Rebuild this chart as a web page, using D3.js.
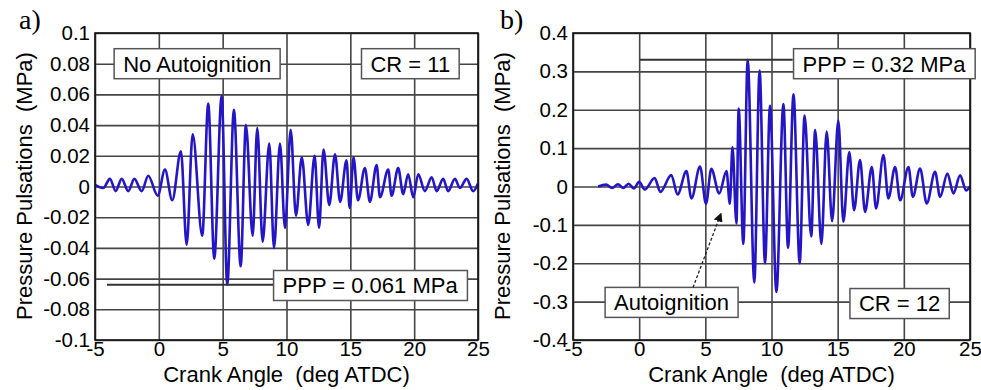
<!DOCTYPE html>
<html>
<head>
<meta charset="utf-8">
<script src="https://cdn.jsdelivr.net/npm/d3@7"></script>
<style>
  body { margin: 0; background: #fff; }
  svg { display: block; }
  text { font-family: "Liberation Sans", Arial, sans-serif; fill: #000; white-space: pre; }
</style>
</head>
<body>
<div id="chart"></div>
<script>
// tick labels
const angleTicks = [-5, 0, 5, 10, 15, 20, 25];
const pulseTicksA = [0.1, 0.08, 0.06, 0.04, 0.02, 0, -0.02, -0.04, -0.06, -0.08, -0.1];
const pulseTicksB = [0.4, 0.3, 0.2, 0.1, 0, -0.1, -0.2, -0.3, -0.4];

// a) CR = 11, no autoignition (peaks/troughs read off the trace)
const angleA = [-5.0, -4.35, -3.83, -3.38, -2.91, -2.39, -1.92, -1.34, -0.83, -0.09, 0.48, 1.05,
  1.73, 2.18, 2.65, 3.40, 3.87, 4.34, 4.92, 5.36, 5.88, 6.41, 6.82, 7.35, 7.71, 8.13, 8.65, 9.02,
  9.49, 9.88, 10.33, 10.74, 11.2, 11.7, 12.2, 12.55, 12.9, 13.35, 13.8, 14.2, 14.7, 14.95, 15.25,
  15.6, 16.14, 16.53, 17.06, 17.32, 17.97, 18.23, 18.75, 19.14, 19.53, 19.93, 20.32, 20.84, 21.37,
  21.76, 22.27, 22.66, 23.19, 23.58, 24.11, 24.62, 25.0];
const pulseA = [0.001, -0.001, 0.005, -0.003, 0.005, -0.003, 0.005, -0.003, 0.007, -0.006, 0.011, -0.009,
  0.023, -0.038, 0.034, -0.032, 0.054, -0.047, 0.059, -0.064, 0.050, -0.052, 0.040, -0.032, 0.038, -0.036, 0.028, -0.040,
  0.028, -0.027, 0.037, -0.019, 0.019, -0.025, 0.020, -0.027, 0.024, -0.012, 0.021, -0.010, 0.017, -0.014, 0.019,
  -0.009, 0.012, -0.010, 0.014, -0.007, 0.011, -0.006, 0.012, -0.005, 0.008, -0.007, 0.008, -0.003, 0.006,
  -0.003, 0.005, -0.003, 0.005, -0.001, 0.005, -0.003, 0.002];

// b) CR = 12, autoignition
const angleB = [-3.1, -2.5, -2.05, -1.6, -1.2, -0.8, -0.4, 0.0, 0.42, 1.17, 1.6, 2.43, 2.9, 3.57, 3.95,
  4.6, 5.05, 5.45, 6.05, 6.6, 6.85, 7.05, 7.35, 7.52, 7.87, 8.2, 8.7, 9.1, 9.51, 9.89, 10.37, 10.9,
  11.25, 11.66, 12.13, 12.5, 13.0, 13.3, 13.77, 14.17, 14.58, 15.05, 15.43, 15.88, 16.24, 16.69, 17.07,
  17.58, 17.9, 18.46, 18.83, 19.34, 19.72, 20.35, 20.68, 21.23, 21.73, 22.36, 22.74, 23.29, 23.75,
  24.25, 24.71, 25.0];
const pulseB = [0, 0.005, -0.004, 0.006, -0.004, 0.007, -0.005, 0.012, -0.008, 0.022, -0.014, 0.030, -0.021, 0.040, -0.031,
  0.052, -0.045, 0.046, -0.018, 0.040, -0.045, 0.103, -0.096, 0.203, -0.150, 0.330, -0.250, 0.302, -0.200, 0.210, -0.275, 0.215,
  -0.160, 0.240, -0.200, 0.185, -0.130, 0.147, -0.150, 0.143, -0.090, 0.172, -0.092, 0.090, -0.062, 0.069, -0.066,
  0.051, -0.057, 0.082, -0.031, 0.051, -0.036, 0.051, -0.027, 0.047, -0.044, 0.038, -0.027, 0.034, -0.018,
  0.029, -0.010, 0.0];

const W = 981, H = 390;
const svg = d3.select("#chart").append("svg").attr("width", W).attr("height", H);

function drawPanel(p) {
  const x = d3.scaleLinear().domain([-5, 25]).range([p.left, p.right]);
  const y = d3.scaleLinear().domain(p.yDomain).range([340, 33]);
  const g = svg.append("g");
  const h = 340 - 33, w = p.right - p.left;

  // grid + labels through the axes
  const fmt = d => d === 0 ? "0" : String(+d.toFixed(2));
  const xAxis = g.append("g").attr("transform", "translate(0,340)")
    .call(d3.axisBottom(x).tickValues(angleTicks).tickSizeInner(-h).tickSizeOuter(0).tickPadding(1).tickFormat(fmt));
  const yAxis = g.append("g").attr("transform", `translate(${p.left},0)`)
    .call(d3.axisLeft(y).tickValues(p.yTicks).tickSizeInner(-w).tickSizeOuter(0).tickPadding(5).tickFormat(fmt));
  [xAxis, yAxis].forEach(a => {
    a.select(".domain").remove();
    a.selectAll("line").attr("stroke", "#454545").attr("stroke-width", 1.6);
    a.selectAll("text").style("font-size", "20.5px").attr("fill", "#000");
  });

  // trace
  const line = d3.line().x(d => x(d[0])).y(d => y(d[1])).curve(d3.curveMonotoneX);
  g.append("path").datum(d3.zip(p.angle, p.pulse))
    .attr("d", line).attr("fill", "none").attr("stroke", "#2416c4").attr("stroke-width", 2.6)
    .attr("stroke-linejoin", "round");

  // frame
  g.append("rect").attr("x", p.left).attr("y", 33).attr("width", w).attr("height", h)
    .attr("fill", "none").attr("stroke", "#111").attr("stroke-width", 1.6);

  // PPP leader line
  g.append("line").attr("x1", x(p.ppp.from)).attr("x2", x(p.ppp.box[0]))
    .attr("y1", y(p.ppp.level)).attr("y2", y(p.ppp.level))
    .attr("stroke", "#333").attr("stroke-width", 2);

  // text boxes
  p.boxes.forEach(b => {
    const bg = g.append("g");
    const t = bg.append("text").attr("x", x(b.at[0])).attr("y", y(b.at[1]))
      .attr("text-anchor", "middle").attr("dy", "0.36em").style("font-size", "22px").text(b.label);
    const bb = t.node().getBBox();
    bg.insert("rect", "text").attr("x", bb.x - 9).attr("y", y(b.at[1]) - 15)
      .attr("width", bb.width + 18).attr("height", 30)
      .attr("fill", "#fff").attr("stroke", "#555").attr("stroke-width", 1.5);
  });

  // panel letter
  svg.append("text").attr("x", p.letterX).attr("y", 29)
    .style("font-family", "'Liberation Serif', 'Times New Roman', serif").style("font-size", "28px")
    .text(p.letter);

  // axis titles
  svg.append("text").attr("x", (p.left + p.right) / 2).attr("y", 382).attr("text-anchor", "middle")
    .style("font-size", "22px").text("Crank Angle  (deg ATDC)");
  svg.append("text").attr("transform", `translate(${p.left - 63},186) rotate(-90)`)
    .attr("text-anchor", "middle").style("font-size", "22px").text("Pressure Pulsations  (MPa)");

  return { x, y, g };
}

drawPanel({
  left: 95, right: 478, yDomain: [-0.1, 0.1], yTicks: pulseTicksA,
  angle: angleA, pulse: pulseA, letter: "a)", letterX: 19,
  ppp: { from: -4.06, level: -0.064, box: [13.1] },
  boxes: [
    { label: "No Autoignition", at: [3.0, 0.08] },
    { label: "CR = 11", at: [19.7, 0.08] },
    { label: "PPP = 0.061 MPa", at: [16.55, -0.0645] }
  ]
});

const pb = drawPanel({
  left: 573, right: 970, yDomain: [-0.4, 0.4], yTicks: pulseTicksB,
  angle: angleB, pulse: pulseB, letter: "b)", letterX: 500,
  ppp: { from: 0.06, level: 0.33, box: [11.6] },
  boxes: [
    { label: "PPP = 0.32 MPa", at: [18.5, 0.32] },
    { label: "Autoignition", at: [2.45, -0.302] },
    { label: "CR = 12", at: [19.68, -0.305] }
  ]
});

// autoignition arrow (dashed)
svg.append("defs").append("marker").attr("id", "head").attr("viewBox", "0 0 10 10")
  .attr("refX", 9).attr("refY", 5).attr("markerWidth", 7).attr("markerHeight", 7).attr("orient", "auto")
  .append("path").attr("d", "M0,0L10,5L0,10z").attr("fill", "#111");
pb.g.append("line")
  .attr("x1", pb.x(4.07)).attr("y1", pb.y(-0.263)).attr("x2", pb.x(6.19)).attr("y2", pb.y(-0.07))
  .attr("stroke", "#222").attr("stroke-width", 1.3).attr("stroke-dasharray", "3,2")
  .attr("marker-end", "url(#head)");
</script>
</body>
</html>
